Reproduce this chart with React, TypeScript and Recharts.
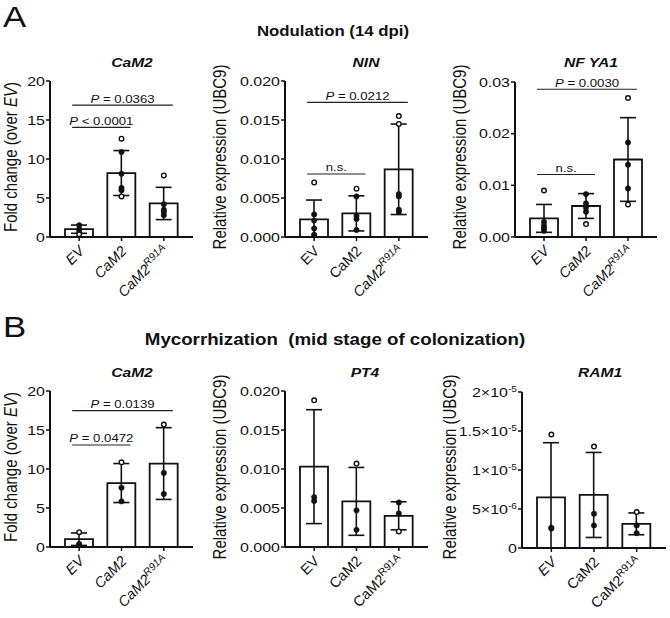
import React from 'react';
import { ComposedChart, Bar, ErrorBar, Line, XAxis, YAxis, ReferenceLine } from 'recharts';

const FONT = '"Liberation Sans", Arial, Helvetica, sans-serif';
const SX = 1.2;
const INK = '#111';

const categories = ['EV', 'CaM2', 'CaM2R91A'];

// A – Nodulation, CaM2 fold change
const nodCaM2Mean = [1.0, 8.2, 4.3];
const nodCaM2Sd = [0.53, 2.88, 2.07];
const nodCaM2Pts = [[1.5, 1.0, 0.6, 0.35], [12.6, 10.9, 8.1, 6.3, 6.0, 5.2], [7.9, 4.2, 3.5, 3.2, 2.8]];
const nodCaM2Brackets = [
  { from: 'EV', to: 'CaM2', y: 14.06, label: 'P < 0.0001' },
  { from: 'EV', to: 'CaM2R91A', y: 16.9, label: 'P = 0.0363' },
];

// A – NIN
const ninMean = [0.00226, 0.00303, 0.00868];
const ninSd = [0.00248, 0.00225, 0.0058];
const ninPts = [[0.007, 0.0029, 0.0021, 0.0011, 0.0003, 0.0001], [0.0062, 0.0052, 0.0027, 0.0023, 0.0009], [0.0155, 0.0145, 0.0055, 0.0052, 0.0035, 0.0032]];
const ninBrackets = [
  { from: 'EV', to: 'CaM2', y: 0.00808, label: 'n.s.' },
  { from: 'EV', to: 'CaM2R91A', y: 0.01726, label: 'P = 0.0212' },
];

// A – NF YA1
const nfyaMean = [0.0036, 0.006, 0.015];
const nfyaSd = [0.0027, 0.0024, 0.0081];
const nfyaPts = [[0.009, 0.0029, 0.0022, 0.0017, 0.0012], [0.0083, 0.0065, 0.0057, 0.0049, 0.0025], [0.0269, 0.0183, 0.014, 0.0094, 0.0063]];
const nfyaBrackets = [
  { from: 'EV', to: 'CaM2', y: 0.0121, label: 'n.s.' },
  { from: 'EV', to: 'CaM2R91A', y: 0.0286, label: 'P = 0.0030' },
];

// B – Mycorrhization, CaM2 fold change
const mycCaM2Mean = [1.0, 8.2, 10.7];
const mycCaM2Sd = [0.8, 2.5, 4.6];
const mycCaM2Pts = [[1.9, 0.4, 0.2], [10.85, 7.6, 5.85], [15.7, 9.5, 6.8]];
const mycCaM2Brackets = [
  { from: 'EV', to: 'CaM2', y: 13.08, label: 'P = 0.0472' },
  { from: 'EV', to: 'CaM2R91A', y: 17.48, label: 'P = 0.0139' },
];

// B – PT4
const pt4Mean = [0.0103, 0.00585, 0.004];
const pt4Sd = [0.0073, 0.00435, 0.0018];
const pt4Pts = [[0.0188, 0.0064, 0.0059], [0.0107, 0.0047, 0.0022], [0.0057, 0.0043, 0.002]];

// B – RAM1
const ram1Mean = [6.5e-6, 6.8e-6, 3.1e-6];
const ram1Sd = [7.0e-6, 5.45e-6, 1.4e-6];
const ram1Pts = [[1.455e-5, 2.6e-6, 2.5e-6], [1.3e-5, 4.4e-6, 2.9e-6], [4.6e-6, 2.9e-6, 1.9e-6]];

const foldTicks = [0, 5, 10, 15, 20];
const relTicks020 = [0, 0.005, 0.01, 0.015, 0.02];
const relTicks03 = [0, 0.01, 0.02, 0.03];
const sciTicks = [0, 5e-6, 1e-5, 1.5e-5, 2e-5];

const fmtInt = (v: number) => ({ base: String(v), exp: '' });
const fmt3 = (v: number) => ({ base: v.toFixed(3), exp: '' });
const fmt2 = (v: number) => ({ base: v.toFixed(2), exp: '' });
const fmtSci = (v: number) => {
  if (v === 0) return { base: '0', exp: '' };
  const e = Math.floor(Math.log10(v) + 1e-9);
  const m = Math.round((v / Math.pow(10, e)) * 10) / 10;
  return { base: `${m}×10`, exp: `-${Math.abs(e)}` };
};

const MAXP = 6;

function buildRows(means: number[], sds: number[], pts: number[][]) {
  return categories.map((cat, i) => {
    const low = Math.min(sds[i], means[i]);
    const row: any = { cat, mean: means[i], err: [low, sds[i]], lo: means[i] - low, hi: means[i] + sds[i] };
    for (let k = 0; k < MAXP; k++) row['p' + k] = pts[i][k] !== undefined ? pts[i][k] : null;
    return row;
  });
}

const YTick = (props: any) => {
  const { x, y, payload, fmt } = props;
  const { base, exp } = fmt(payload.value);
  return (
    <g transform={`translate(${x},${y}) scale(${SX},1)`}>
      <text x={0} y={0} dy="0.36em" textAnchor="end" fontSize={13.3} fontFamily={FONT} fill={INK}>
        {base}
        {exp ? <tspan dy={-5} fontSize={8.5}>{exp}</tspan> : null}
      </text>
    </g>
  );
};

const XTick = (props: any) => {
  const { x, y, payload, italics } = props;
  const v = payload.value as string;
  const idx = categories.indexOf(v);
  const it = italics[idx] ? 'italic' : 'normal';
  return (
    <g transform={`translate(${x + 6},${y + 9}) rotate(-45)`}>
      <text x={0} y={0} textAnchor="end" fontSize={14.5} fontFamily={FONT} fill={INK} fontStyle={it}>
        {v === 'CaM2R91A' ? (
          <>
            <tspan>CaM2</tspan>
            <tspan dy={-5.5} fontSize={10.5}>R91A</tspan>
          </>
        ) : (
          v
        )}
      </text>
    </g>
  );
};

const makeBracket = (label: string) => (props: any) => {
  const { x1, y1, x2 } = props;
  if (x1 == null || y1 == null || x2 == null) return <g />;
  const xs = x1 - 7;
  const xe = x2 + 9;
  const mid = (xs + xe) / 2;
  const isP = label.startsWith('P');
  return (
    <g>
      <line x1={xs} x2={xe} y1={y1} y2={y1} stroke="#222" strokeWidth={1.2} />
      <g transform={`translate(${mid},${y1 - 2.5}) scale(${SX},1)`}>
        <text x={0} y={0} textAnchor="middle" fontSize={11} fontFamily={FONT} fill={INK}>
          {isP ? (
            <>
              <tspan fontStyle="italic">P</tspan>
              <tspan>{label.slice(1)}</tspan>
            </>
          ) : (
            label
          )}
        </text>
      </g>
    </g>
  );
};

const makeDot = (pk: string) => (props: any) => {
  const { cx, cy, payload, index } = props;
  const val = payload ? payload[pk] : null;
  if (cx == null || cy == null || val == null || isNaN(cy)) return <g key={`${pk}-${index}`} />;
  const inside = val >= payload.lo - 1e-12 && val <= payload.hi + 1e-12;
  return inside ? (
    <circle key={`${pk}-${index}`} cx={cx} cy={cy} r={2.7} fill="#111" stroke="#111" strokeWidth={0.5} />
  ) : (
    <circle key={`${pk}-${index}`} cx={cx} cy={cy} r={2.3} fill="#fff" stroke="#111" strokeWidth={1.4} />
  );
};

type PanelCfg = {
  id: string;
  left: number;
  top: number;
  width: number;
  height: number;
  yAxisX: number;
  plotRight: number;
  plotTop: number;
  plotBottom: number;
  means: number[];
  sds: number[];
  pts: number[][];
  domain: [number, number];
  ticks: number[];
  fmt: (v: number) => { base: string; exp: string };
  italics: boolean[];
  brackets: { from: string; to: string; y: number; label: string }[];
};

const panels: PanelCfg[] = [
  { id: 'a1', left: 0, top: 40, width: 205, height: 275, yAxisX: 50, plotRight: 193, plotTop: 81, plotBottom: 237, means: nodCaM2Mean, sds: nodCaM2Sd, pts: nodCaM2Pts, domain: [0, 20], ticks: foldTicks, fmt: fmtInt, italics: [true, true, true], brackets: nodCaM2Brackets },
  { id: 'a2', left: 215, top: 40, width: 218, height: 275, yAxisX: 285, plotRight: 428, plotTop: 81, plotBottom: 237, means: ninMean, sds: ninSd, pts: ninPts, domain: [0, 0.02], ticks: relTicks020, fmt: fmt3, italics: [false, false, true], brackets: ninBrackets },
  { id: 'a3', left: 440, top: 40, width: 230, height: 275, yAxisX: 515, plotRight: 657, plotTop: 82, plotBottom: 237, means: nfyaMean, sds: nfyaSd, pts: nfyaPts, domain: [0, 0.03], ticks: relTicks03, fmt: fmt2, italics: [true, true, true], brackets: nfyaBrackets },
  { id: 'b1', left: 0, top: 350, width: 205, height: 268, yAxisX: 50, plotRight: 193, plotTop: 391, plotBottom: 547, means: mycCaM2Mean, sds: mycCaM2Sd, pts: mycCaM2Pts, domain: [0, 20], ticks: foldTicks, fmt: fmtInt, italics: [true, true, true], brackets: mycCaM2Brackets },
  { id: 'b2', left: 215, top: 350, width: 218, height: 268, yAxisX: 285, plotRight: 428, plotTop: 391, plotBottom: 547, means: pt4Mean, sds: pt4Sd, pts: pt4Pts, domain: [0, 0.02], ticks: relTicks020, fmt: fmt3, italics: [false, false, false], brackets: [] },
  { id: 'b3', left: 440, top: 350, width: 230, height: 268, yAxisX: 522, plotRight: 666, plotTop: 392, plotBottom: 548, means: ram1Mean, sds: ram1Sd, pts: ram1Pts, domain: [0, 2e-5], ticks: sciTicks, fmt: fmtSci, italics: [true, false, false], brackets: [] },
];

const Panel = ({ cfg }: { cfg: PanelCfg }) => {
  const rows = buildRows(cfg.means, cfg.sds, cfg.pts);
  const margin = { top: cfg.plotTop - cfg.top, right: cfg.left + cfg.width - cfg.plotRight, bottom: 0, left: 0 };
  const xHeight = cfg.top + cfg.height - cfg.plotBottom;
  return (
    <ComposedChart width={cfg.width} height={cfg.height} data={rows} margin={margin}>
      <XAxis
        dataKey="cat"
        type="category"
        interval={0}
        padding={{ left: 8, right: 8 }}
        height={xHeight}
        tickSize={4}
        axisLine={{ stroke: '#111', strokeWidth: 2 }}
        tickLine={{ stroke: '#111', strokeWidth: 1.5 }}
        tick={(p: any) => <XTick {...p} italics={cfg.italics} />}
      />
      <YAxis
        type="number"
        domain={cfg.domain}
        ticks={cfg.ticks}
        interval={0}
        allowDataOverflow
        width={cfg.yAxisX - cfg.left}
        tickSize={4}
        tickMargin={1}
        axisLine={{ stroke: '#111', strokeWidth: 2 }}
        tickLine={{ stroke: '#111', strokeWidth: 1.5 }}
        tick={(p: any) => <YTick {...p} fmt={cfg.fmt} />}
      />
      <Bar dataKey="mean" fill="#fff" stroke="#111" strokeWidth={1.8} barSize={28} isAnimationActive={false}>
        <ErrorBar dataKey="err" width={8} stroke="#111" strokeWidth={1.6} isAnimationActive={false} />
      </Bar>
      {Array.from({ length: MAXP }, (_, k) => (
        <Line
          key={'p' + k}
          dataKey={'p' + k}
          stroke="none"
          isAnimationActive={false}
          dot={makeDot('p' + k)}
          activeDot={false}
          legendType="none"
        />
      ))}
      {cfg.brackets.map((b, i) => (
        <ReferenceLine
          key={'br' + i}
          segment={[{ x: b.from, y: b.y }, { x: b.to, y: b.y }]}
          ifOverflow="visible"
          shape={makeBracket(b.label)}
        />
      ))}
    </ComposedChart>
  );
};

const subtitles = [
  { text: 'CaM2', x: 132, y: 67 },
  { text: 'NIN', x: 366, y: 67 },
  { text: 'NF YA1', x: 591, y: 67 },
  { text: 'CaM2', x: 132, y: 377 },
  { text: 'PT4', x: 365, y: 377 },
  { text: 'RAM1', x: 600, y: 377 },
];

const yLabels = [
  { fold: true, x: 17, y: 157 },
  { fold: false, x: 226, y: 157 },
  { fold: false, x: 466, y: 157 },
  { fold: true, x: 17, y: 467 },
  { fold: false, x: 226, y: 467 },
  { fold: false, x: 456, y: 467 },
];

export default function App() {
  return (
    <div style={{ position: 'absolute', left: 0, top: 0, width: 670, height: 618, background: '#fff', fontFamily: FONT, overflow: 'hidden' }}>
      <svg width={670} height={618} style={{ position: 'absolute', left: 0, top: 0 }}>
        <g fontFamily={FONT} fill={INK}>
          <text transform={`translate(3,27) scale(${SX},1)`} fontSize={29}>A</text>
          <text transform={`translate(3,337) scale(${SX},1)`} fontSize={29}>B</text>
          <text transform={`translate(333,36) scale(${SX},1)`} fontSize={14} fontWeight="bold" textAnchor="middle">Nodulation (14 dpi)</text>
          <text transform={`translate(335,345) scale(${SX},1)`} fontSize={15.6} fontWeight="bold" textAnchor="middle" style={{ whiteSpace: 'pre' }}>Mycorrhization  (mid stage of colonization)</text>
          {subtitles.map((s, i) => (
            <text key={'s' + i} transform={`translate(${s.x},${s.y}) scale(${SX},1)`} fontSize={13} fontWeight="bold" fontStyle="italic" textAnchor="middle">{s.text}</text>
          ))}
          {yLabels.map((l, i) => (
            <text key={'yl' + i} transform={`translate(${l.x},${l.y}) scale(${SX},1) rotate(-90)`} fontSize={15} textAnchor="middle">
              {l.fold ? (
                <>
                  <tspan>Fold change (over </tspan>
                  <tspan fontStyle="italic">EV</tspan>
                  <tspan>)</tspan>
                </>
              ) : (
                'Relative expression (UBC9)'
              )}
            </text>
          ))}
        </g>
      </svg>
      {panels.map((p) => (
        <div key={p.id} style={{ position: 'absolute', left: p.left, top: p.top, width: p.width, height: p.height }}>
          <Panel cfg={p} />
        </div>
      ))}
    </div>
  );
}
